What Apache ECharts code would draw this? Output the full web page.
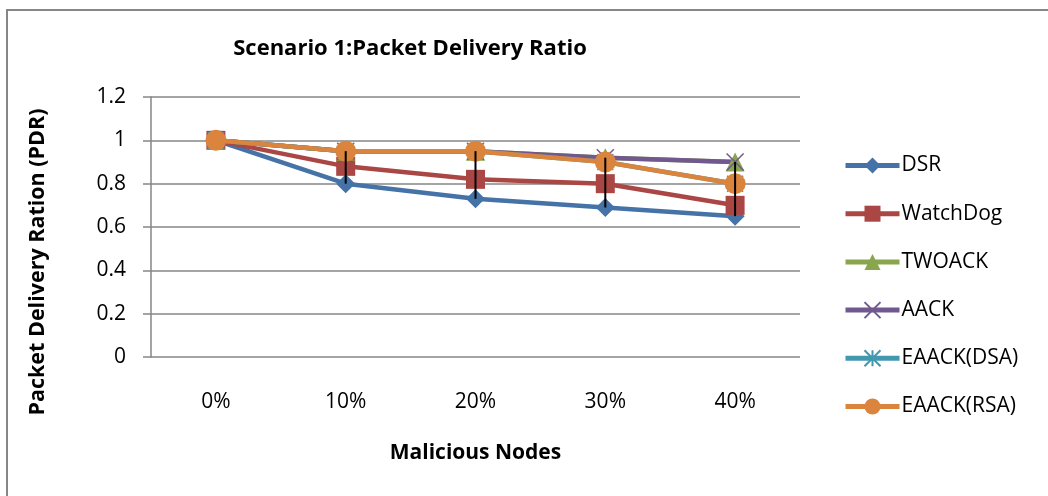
<!DOCTYPE html>
<html>
<head>
<meta charset="utf-8">
<script src="https://cdn.jsdelivr.net/npm/echarts@6/dist/echarts.min.js"></script>
<style>
  html, body { margin: 0; padding: 0; background: #fff; }
  #chart { width: 1048px; height: 496px; }
</style>
</head>
<body>
<div id="chart"></div>
<script>
// 恶意节点比例
const categories = ['0%', '10%', '20%', '30%', '40%'];
const dsr = [1, 0.8, 0.73, 0.69, 0.65];
const watchDog = [1, 0.88, 0.82, 0.8, 0.7];
const twoAck = [1, 0.95, 0.95, 0.92, 0.9];
const aack = [1, 0.95, 0.95, 0.92, 0.9];
const eaackDsa = [1, 0.95, 0.95, 0.9, 0.8];
const eaackRsa = [1, 0.95, 0.95, 0.9, 0.8];
const yTicks = [0, 0.2, 0.4, 0.6, 0.8, 1, 1.2];

const FONT = '"Open Sans", sans-serif';

const all = [dsr, watchDog, twoAck, aack, eaackDsa, eaackRsa];
// high-low lines
const hiLo = categories.map((c, i) => {
  const vals = all.map(s => s[i]);
  return [i, Math.max(...vals), Math.min(...vals)];
});

function lineSeries(name, data, color, symbol, size, extra) {
  return Object.assign({
    name,
    type: 'line',
    data,
    symbol,
    symbolSize: size,
    lineStyle: { color, width: 4.5 },
    itemStyle: { color },
    z: 2,
  }, extra || {});
}

const chart = echarts.init(document.getElementById('chart'));
chart.setOption({
  animation: false,
  title: {
    text: 'Scenario 1:Packet Delivery Ratio',
    left: 405,
    top: 33,
    textAlign: 'center',
    textStyle: { fontFamily: FONT, fontWeight: 'bold', fontSize: 22, color: '#000' },
  },
  graphic: [
    {
      type: 'rect',
      shape: { x: 7, y: 10, width: 1200, height: 600 },
      style: { fill: 'none', stroke: '#868686', lineWidth: 2 },
      silent: true,
    },
    {
      type: 'text',
      x: 38,
      y: 262,
      rotation: Math.PI / 2,
      style: {
        text: 'Packet Delivery Ration (PDR)',
        fontFamily: FONT,
        fontWeight: 'bold',
        fontSize: 21.5,
        fill: '#000',
        align: 'center',
        verticalAlign: 'middle',
      },
    },
  ],
  legend: {
    orient: 'vertical',
    left: 838,
    top: 150,
    itemGap: 27.2,
    itemWidth: 54,
    itemHeight: 20,
    lineStyle: { width: 5 },
    textStyle: { fontFamily: FONT, fontSize: 21, color: '#000', padding: [0, 0, 0, -3] },
    data: ['DSR', 'WatchDog', 'TWOACK', 'AACK', 'EAACK(DSA)', 'EAACK(RSA)'],
  },
  grid: { left: 151, right: 248, top: 97, bottom: 139 },
  xAxis: {
    type: 'category',
    data: categories,
    boundaryGap: true,
    axisLine: { show: false },
    axisTick: { show: false },
    axisLabel: { margin: 35, fontFamily: FONT, fontSize: 21, color: '#000' },
    name: 'Malicious Nodes',
    nameLocation: 'middle',
    nameGap: 86,
    nameTextStyle: { fontFamily: FONT, fontWeight: 'bold', fontSize: 21, color: '#000' },
  },
  yAxis: {
    type: 'value',
    min: 0,
    max: 1.2,
    interval: 0.2,
    axisLine: { show: true, lineStyle: { color: '#868686', width: 1.5 } },
    axisTick: { show: true, length: 8, lineStyle: { color: '#868686', width: 1.5 } },
    axisLabel: {
      margin: 25,
      fontFamily: FONT,
      fontSize: 21,
      color: '#000',
      formatter: v => {
        const t = yTicks.find(x => Math.abs(x - v) < 1e-6);
        return t === undefined ? '' : String(t);
      },
    },
    splitLine: { show: true, lineStyle: { color: '#868686', width: 1.5 } },
  },
  series: [
    lineSeries('DSR', dsr, '#4572A7', 'diamond', 19),
    lineSeries('WatchDog', watchDog, '#AA4643', 'rect', 19),
    lineSeries('TWOACK', twoAck, '#89A54E', 'triangle', 19),
    lineSeries('AACK', aack, '#71588F', 'path://M0,0L10,10M10,0L0,10', 17, {
      itemStyle: { color: 'none', borderColor: '#71588F', borderWidth: 1.5 },
    }),
    lineSeries('EAACK(DSA)', eaackDsa, '#4198AF', 'path://M0,0L10,10M10,0L0,10M5,0L5,10', 16, {
      itemStyle: { color: 'none', borderColor: '#4198AF', borderWidth: 1.5 },
    }),
    lineSeries('EAACK(RSA)', eaackRsa, '#DB843D', 'circle', 21),
    {
      name: 'hilo',
      type: 'custom',
      data: hiLo,
      z: 10,
      silent: true,
      renderItem: (params, api) => {
        const p1 = api.coord([api.value(0), api.value(1)]);
        const p2 = api.coord([api.value(0), api.value(2)]);
        return {
          type: 'line',
          shape: { x1: p1[0], y1: p1[1], x2: p2[0], y2: p2[1] },
          style: { stroke: '#000', lineWidth: 2 },
        };
      },
    },
  ],
});
</script>
</body>
</html>
